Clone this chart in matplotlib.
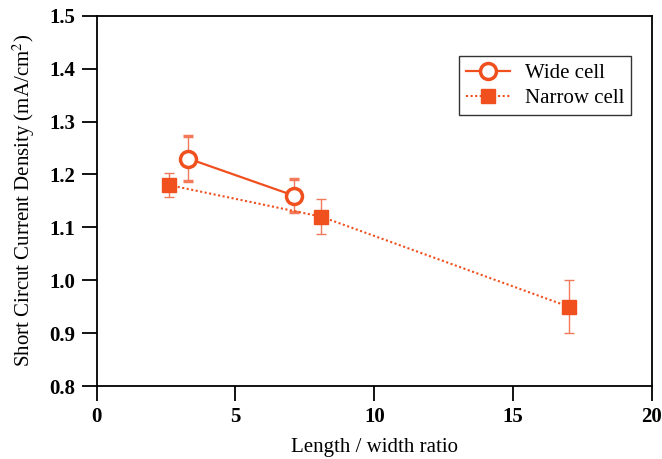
import matplotlib
matplotlib.use("Agg")
import matplotlib.pyplot as plt

wide_x = [3.3, 7.1]
wide_y = [1.23, 1.16]
wide_err = [0.042, 0.032]

narrow_x = [2.6, 8.1, 17.0]
narrow_y = [1.18, 1.12, 0.95]
narrow_err = [0.022, 0.033, 0.05]

xticks = [0, 5, 10, 15, 20]
yticks = [0.8, 0.9, 1.0, 1.1, 1.2, 1.3, 1.4, 1.5]

color = "#F0501E"
ecolor = "#F27A5A"
plt.rcParams['font.family'] = ['Liberation Serif', 'DejaVu Serif']
plt.rcParams['mathtext.fontset'] = 'stix'

fig = plt.figure(figsize=(6.62, 4.59), dpi=100)
ax = fig.add_axes([96.5/662, 1-386/459, (652-96.5)/662, (386-15.7)/459])

ax.errorbar(wide_x, wide_y, yerr=wide_err, color=color, lw=1.6, marker='o',
            ms=11.5, mfc='white', mec=color, mew=2.5, ecolor=ecolor, elinewidth=1.0,
            capsize=3.5, capthick=1.0, label='Wide cell', zorder=3)
ax.errorbar(narrow_x, narrow_y, yerr=narrow_err, color=color, lw=1.5, ls=(0, (1, 1.2)),
            marker='s', ms=9.5, mfc=color, mec=color, ecolor=ecolor, elinewidth=1.0,
            capsize=3.5, capthick=1.0, label='Narrow cell', zorder=3)

ax.set_xlim(0, 20)
ax.set_ylim(0.8, 1.5)
ax.set_xticks(xticks)
ax.set_yticks(yticks)
ax.set_xticklabels([str(v) for v in xticks], fontweight='bold', fontsize=15)
ax.set_yticklabels([f"{v:.1f}" for v in yticks], fontweight='bold', fontsize=15)
ax.tick_params(direction='out', length=11, width=1.3, pad=4)
for s in ax.spines.values():
    s.set_linewidth(1.3)
ax.set_xlabel('Length / width ratio', fontsize=15, labelpad=8)
ax.set_ylabel('Short Circut Current Density (mA/cm$^2$)', fontsize=15, labelpad=9)

handles, labels = ax.get_legend_handles_labels()
handles = [h[0] for h in handles]
leg = ax.legend(handles, labels, loc='upper right', bbox_to_anchor=(0.963, 0.89), fontsize=15,
                frameon=True, fancybox=False, edgecolor='black', handlelength=2.1,
                handletextpad=0.7, borderpad=0.35, labelspacing=0.25, borderaxespad=0)
leg.get_frame().set_linewidth(1.0)

fig.savefig('out.png', dpi=100)
